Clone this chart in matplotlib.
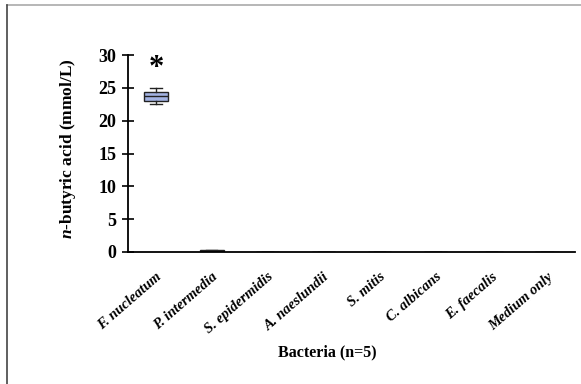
import matplotlib
matplotlib.use("Agg")
import matplotlib.pyplot as plt
from matplotlib.lines import Line2D

plt.rcParams['font.family'] = ['Liberation Serif', 'DejaVu Serif']
plt.rcParams['mathtext.fontset'] = 'custom'
plt.rcParams['mathtext.it'] = 'Liberation Serif:italic:bold'
plt.rcParams['mathtext.rm'] = 'Liberation Serif:bold'

categories = ["F. nucleatum", "P. intermedia", "S. epidermidis", "A. naeslundii",
              "S. mitis", "C. albicans", "E. faecalis", "Medium only"]
whislo = [22.5, 0.10, 0.02, 0.02, 0.02, 0.02, 0.02, 0.02]
q1 =     [23.0, 0.15, 0.03, 0.03, 0.03, 0.03, 0.03, 0.03]
med =    [23.7, 0.20, 0.04, 0.04, 0.04, 0.04, 0.04, 0.04]
q3 =     [24.4, 0.25, 0.05, 0.05, 0.05, 0.05, 0.05, 0.05]
whishi = [25.0, 0.30, 0.06, 0.06, 0.06, 0.06, 0.06, 0.06]
yticks = [0, 5, 10, 15, 20, 25, 30]

fig = plt.figure(figsize=(5.81, 3.84), dpi=100)
ax = fig.add_axes([128/581, 1-252/384, (575-128)/581, (252-55)/384])

stats = []
for i, c in enumerate(categories):
    stats.append(dict(label=c, whislo=whislo[i], q1=q1[i], med=med[i],
                      q3=q3[i], whishi=whishi[i], fliers=[]))
pos = list(range(len(categories)))
ax.bxp(stats, positions=pos, widths=0.42, patch_artist=True, showfliers=False,
       boxprops=dict(facecolor='#a3b3e3', edgecolor='#222222', linewidth=1.0),
       medianprops=dict(color='#222222', linewidth=1.0),
       whiskerprops=dict(color='#222222', linewidth=1.0),
       capprops=dict(color='#222222', linewidth=1.0), capwidths=0.2)

ax.set_xlim(-0.5, len(categories) - 0.5)
ax.set_ylim(0, 30)
ax.set_yticks(yticks)
ax.set_yticklabels([str(t) for t in yticks], fontsize=13, fontweight='bold')
ax.tick_params(axis='y', direction='inout', length=9, width=1.2, pad=4)
ax.set_xticks(pos)
ax.set_xticklabels(categories, rotation=41, ha='right', rotation_mode='anchor',
                   fontsize=10.5, fontweight='bold', fontstyle='italic')
ax.tick_params(axis='x', length=0, pad=13)
for s in ['top', 'right']:
    ax.spines[s].set_visible(False)
ax.spines['left'].set_linewidth(1.3)
ax.spines['bottom'].set_linewidth(1.3)

ax.text(0, 28.0, '*', ha='center', va='center', fontsize=22, fontweight='bold')

fig.text(68/581, 1-149/384, r'$\mathit{n}$-butyric acid (mmol/L)', rotation=90,
         ha='center', va='center', fontsize=12.5, fontweight='bold')
fig.text(327/581, 1-352/384, 'Bacteria (n=5)', ha='center', va='center',
         fontsize=11.5, fontweight='bold')

fig.add_artist(Line2D([7/581, 1], [1-4.5/384, 1-4.5/384], transform=fig.transFigure,
                      color='#aaaaaa', linewidth=1.2))
fig.add_artist(Line2D([7/581, 7/581], [0, 1-4.5/384], transform=fig.transFigure,
                      color='#444444', linewidth=1.2))

fig.savefig('out.png', dpi=100)
